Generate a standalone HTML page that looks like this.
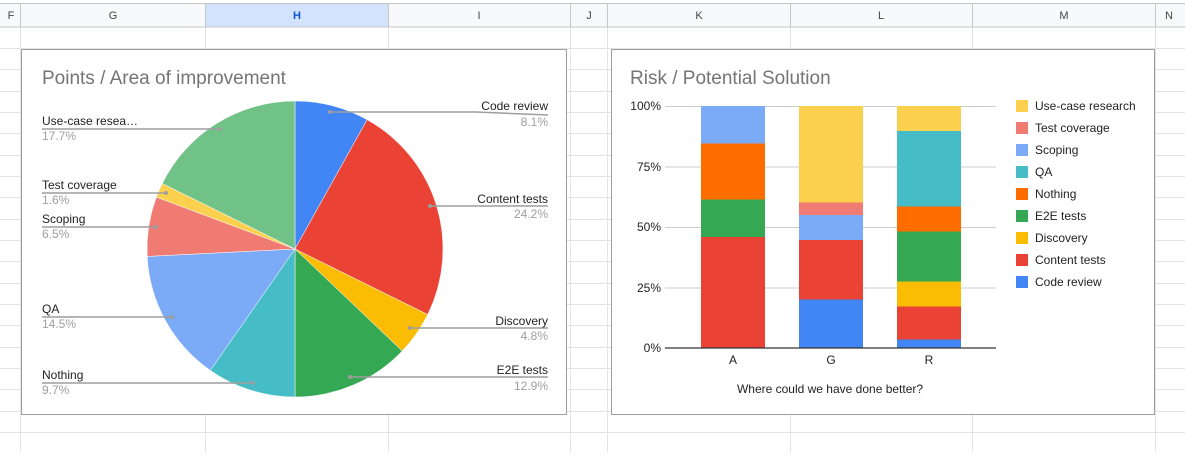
<!DOCTYPE html>
<html><head><meta charset="utf-8"><style>
body{margin:0;width:1185px;height:452px;overflow:hidden;background:#fff;font-family:"Liberation Sans",Arial,sans-serif}
</style></head><body>
<svg width="1185" height="452" xmlns="http://www.w3.org/2000/svg" font-family="Liberation Sans, Arial, sans-serif">
<!-- grid -->
<g stroke="#e2e3e3" stroke-width="1">
<line x1="0" y1="48.5" x2="1185" y2="48.5"/><line x1="0" y1="69.5" x2="1185" y2="69.5"/><line x1="0" y1="91.5" x2="1185" y2="91.5"/><line x1="0" y1="112.5" x2="1185" y2="112.5"/><line x1="0" y1="133.5" x2="1185" y2="133.5"/><line x1="0" y1="155.5" x2="1185" y2="155.5"/><line x1="0" y1="176.5" x2="1185" y2="176.5"/><line x1="0" y1="197.5" x2="1185" y2="197.5"/><line x1="0" y1="219.5" x2="1185" y2="219.5"/><line x1="0" y1="240.5" x2="1185" y2="240.5"/><line x1="0" y1="261.5" x2="1185" y2="261.5"/><line x1="0" y1="283.5" x2="1185" y2="283.5"/><line x1="0" y1="304.5" x2="1185" y2="304.5"/><line x1="0" y1="325.5" x2="1185" y2="325.5"/><line x1="0" y1="347.5" x2="1185" y2="347.5"/><line x1="0" y1="368.5" x2="1185" y2="368.5"/><line x1="0" y1="389.5" x2="1185" y2="389.5"/><line x1="0" y1="411.5" x2="1185" y2="411.5"/><line x1="0" y1="432.5" x2="1185" y2="432.5"/>
<line x1="20.5" y1="27" x2="20.5" y2="452"/><line x1="205.5" y1="27" x2="205.5" y2="452"/><line x1="388.5" y1="27" x2="388.5" y2="452"/><line x1="570.5" y1="27" x2="570.5" y2="452"/><line x1="607.5" y1="27" x2="607.5" y2="452"/><line x1="790.5" y1="27" x2="790.5" y2="452"/><line x1="972.5" y1="27" x2="972.5" y2="452"/><line x1="1155.5" y1="27" x2="1155.5" y2="452"/>
</g>
<!-- header -->
<rect x="0" y="3" width="1185" height="24" fill="#f8f9fa"/>
<rect x="205" y="3" width="183" height="24" fill="#d3e3fd"/>
<line x1="0" y1="3.5" x2="1185" y2="3.5" stroke="#c4c7c5"/>
<line x1="0" y1="27" x2="1185" y2="27" stroke="#c4c7c5"/>
<g stroke="#c4c7c5"><line x1="20.5" y1="3" x2="20.5" y2="27"/><line x1="205.5" y1="3" x2="205.5" y2="27"/><line x1="388.5" y1="3" x2="388.5" y2="27"/><line x1="570.5" y1="3" x2="570.5" y2="27"/><line x1="607.5" y1="3" x2="607.5" y2="27"/><line x1="790.5" y1="3" x2="790.5" y2="27"/><line x1="972.5" y1="3" x2="972.5" y2="27"/><line x1="1155.5" y1="3" x2="1155.5" y2="27"/></g>
<g font-size="11" fill="#444" text-anchor="middle">
<text x="11" y="19">F</text><text x="113" y="19">G</text><text x="297" y="19" fill="#0b57d0" font-weight="bold">H</text><text x="479" y="19">I</text><text x="589" y="19">J</text><text x="699" y="19">K</text><text x="881" y="19">L</text><text x="1064" y="19">M</text><text x="1169" y="19">N</text>
</g>
<!-- chart 1 -->
<rect x="21.5" y="49.5" width="545" height="365" fill="#fff" stroke="#9e9e9e"/>
<text x="42" y="84" font-size="19" fill="#757575">Points / Area of improvement</text>
<g stroke="#fff" stroke-width="0.5">
<path d="M295 249 L295 101 A148 148 0 0 1 367.1 119.7Z" fill="#4285f4"/>
<path d="M295 249 L367.1 119.7 A148 148 0 0 1 427.7 314.5Z" fill="#ea4335"/>
<path d="M295 249 L427.7 314.5 A148 148 0 0 1 402.2 351.0Z" fill="#fbbc04"/>
<path d="M295 249 L402.2 351.0 A148 148 0 0 1 295 397Z" fill="#34a853"/>
<path d="M295 249 L295 397 A148 148 0 0 1 210.3 370.4Z" fill="#46bdc6"/>
<path d="M295 249 L210.3 370.4 A148 148 0 0 1 147.2 256.4Z" fill="#7baaf7"/>
<path d="M295 249 L147.2 256.4 A148 148 0 0 1 156.4 197.1Z" fill="#f07b72"/>
<path d="M295 249 L156.4 197.1 A148 148 0 0 1 162.3 183.5Z" fill="#fcd04f"/>
<path d="M295 249 L162.3 183.5 A148 148 0 0 1 295 101Z" fill="#71c287"/>
</g>
<g stroke="#9e9e9e" stroke-width="1.5" fill="none">
<polyline points="42,129 220,129"/><polyline points="42,193 166,193"/><polyline points="42,227 156,227"/><polyline points="42,317 172,317"/><polyline points="42,383 253,383"/>
<polyline points="330,112 476,112 548,115"/><polyline points="430,206 548,206"/><polyline points="410,328 548,328"/><polyline points="350,377 548,377"/>
</g>
<g fill="#9e9e9e"><circle cx="220" cy="129" r="2"/><circle cx="166" cy="193" r="2"/><circle cx="156" cy="227" r="2"/><circle cx="172" cy="317" r="2"/><circle cx="253" cy="383" r="2"/><circle cx="330" cy="112" r="2"/><circle cx="430" cy="206" r="2"/><circle cx="410" cy="328" r="2"/><circle cx="350" cy="377" r="2"/></g>
<g font-size="12" fill="#222">
<text x="42" y="125">Use-case resea…</text><text x="42" y="189">Test coverage</text><text x="42" y="223">Scoping</text><text x="42" y="313">QA</text><text x="42" y="379">Nothing</text>
<g text-anchor="end"><text x="548" y="110">Code review</text><text x="548" y="203">Content tests</text><text x="548" y="325">Discovery</text><text x="548" y="374">E2E tests</text></g>
</g>
<g font-size="12" fill="#9e9e9e">
<text x="42" y="140">17.7%</text><text x="42" y="204">1.6%</text><text x="42" y="238">6.5%</text><text x="42" y="328">14.5%</text><text x="42" y="394">9.7%</text>
<g text-anchor="end"><text x="548" y="126">8.1%</text><text x="548" y="218">24.2%</text><text x="548" y="340">4.8%</text><text x="548" y="390">12.9%</text></g>
</g>
<!-- chart 2 -->
<rect x="611.5" y="49.5" width="543" height="365" fill="#fff" stroke="#9e9e9e"/>
<text x="630" y="84" font-size="19" fill="#757575">Risk / Potential Solution</text>
<g stroke="#ccc"><line x1="665" y1="106.5" x2="996" y2="106.5"/><line x1="665" y1="167" x2="996" y2="167"/><line x1="665" y1="227.5" x2="996" y2="227.5"/><line x1="665" y1="288" x2="996" y2="288"/></g>
<g font-size="12" fill="#222" text-anchor="end"><text x="661" y="110">100%</text><text x="661" y="171">75%</text><text x="661" y="231">50%</text><text x="661" y="292">25%</text><text x="661" y="352">0%</text></g>
<!-- bar A -->
<rect x="701" y="106" width="64" height="38" fill="#7baaf7"/>
<rect x="701" y="143.5" width="64" height="56" fill="#ff6d01"/>
<rect x="701" y="199.5" width="64" height="38" fill="#34a853"/>
<rect x="701" y="237" width="64" height="111" fill="#ea4335"/>
<!-- bar G -->
<rect x="799" y="106" width="64" height="97" fill="#fcd04f"/>
<rect x="799" y="202.5" width="64" height="12.5" fill="#f07b72"/>
<rect x="799" y="215" width="64" height="25" fill="#7baaf7"/>
<rect x="799" y="240" width="64" height="60" fill="#ea4335"/>
<rect x="799" y="299.5" width="64" height="48.5" fill="#4285f4"/>
<!-- bar R -->
<rect x="897" y="106" width="64" height="25" fill="#fcd04f"/>
<rect x="897" y="131" width="64" height="76" fill="#46bdc6"/>
<rect x="897" y="206.5" width="64" height="25" fill="#ff6d01"/>
<rect x="897" y="231.5" width="64" height="50.5" fill="#34a853"/>
<rect x="897" y="281.5" width="64" height="25.5" fill="#fbbc04"/>
<rect x="897" y="306.5" width="64" height="33" fill="#ea4335"/>
<rect x="897" y="339.5" width="64" height="8.5" fill="#4285f4"/>
<line x1="665" y1="348" x2="996" y2="348" stroke="#333" stroke-width="1.2"/>
<g font-size="12" fill="#222" text-anchor="middle"><text x="733" y="364">A</text><text x="831" y="364">G</text><text x="929" y="364">R</text>
<text x="830" y="393">Where could we have done better?</text></g>
<!-- legend -->
<g font-size="12" fill="#222">
<rect x="1016" y="100" width="12" height="12" fill="#fcd04f"/><text x="1035" y="110">Use-case research</text>
<rect x="1016" y="122" width="12" height="12" fill="#f07b72"/><text x="1035" y="132">Test coverage</text>
<rect x="1016" y="144" width="12" height="12" fill="#7baaf7"/><text x="1035" y="154">Scoping</text>
<rect x="1016" y="166" width="12" height="12" fill="#46bdc6"/><text x="1035" y="176">QA</text>
<rect x="1016" y="188" width="12" height="12" fill="#ff6d01"/><text x="1035" y="198">Nothing</text>
<rect x="1016" y="210" width="12" height="12" fill="#34a853"/><text x="1035" y="220">E2E tests</text>
<rect x="1016" y="232" width="12" height="12" fill="#fbbc04"/><text x="1035" y="242">Discovery</text>
<rect x="1016" y="254" width="12" height="12" fill="#ea4335"/><text x="1035" y="264">Content tests</text>
<rect x="1016" y="276" width="12" height="12" fill="#4285f4"/><text x="1035" y="286">Code review</text>
</g>
</svg>
</body></html>
